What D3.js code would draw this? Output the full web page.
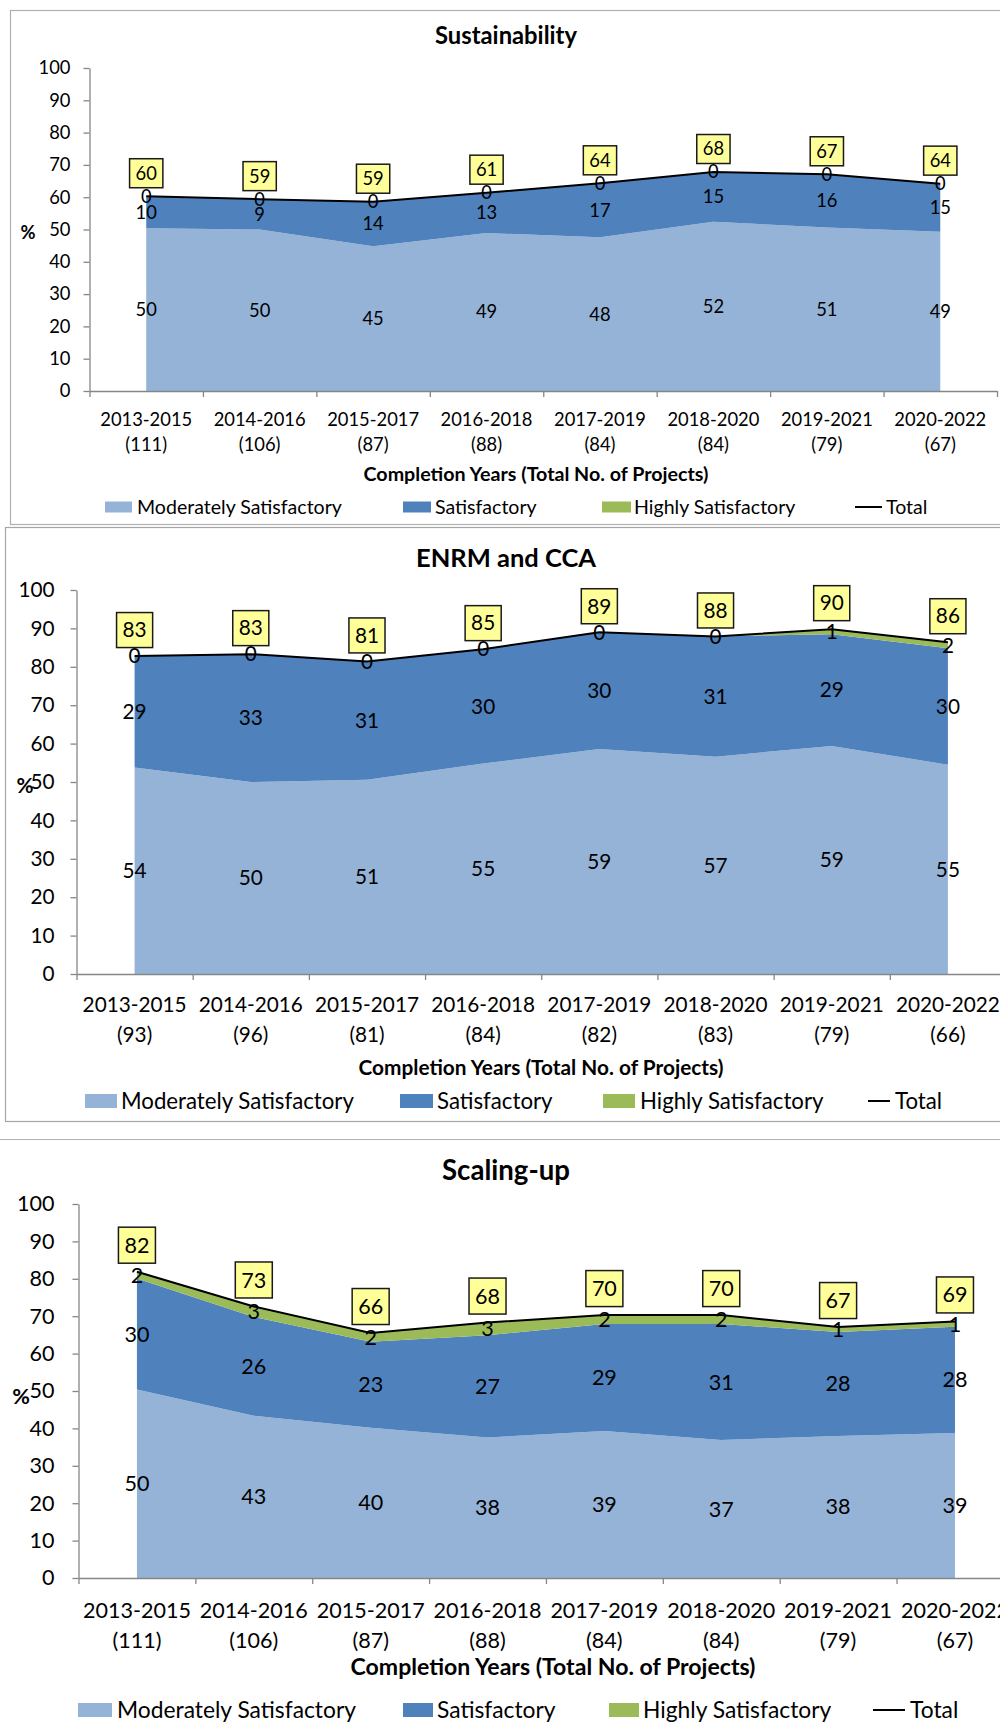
<!DOCTYPE html>
<html><head><meta charset="utf-8">
<script src="https://cdn.jsdelivr.net/npm/d3@7"></script>
<style>
body{margin:0;background:#fff;}
svg{display:block;}
text{font-family:Lato,"Open Sans",sans-serif;}
</style>
</head><body>
<svg id="c" width="1000" height="1727"></svg>
<script>
// ---------- DATA ----------
const categories = ["2013-2015","2014-2016","2015-2017","2016-2018","2017-2019","2018-2020","2019-2021","2020-2022"];
const yTicks = [0,10,20,30,40,50,60,70,80,90,100];
const seriesNames = ["Moderately Satisfactory","Satisfactory","Highly Satisfactory","Total"];
const xAxisTitle = "Completion Years (Total No. of Projects)";

// Sustainability
const sustProjects = [111,106,87,88,84,84,79,67];
const sustMS    = [50.4,50.0,44.8,48.9,47.6,52.4,50.6,49.3];
const sustS     = [9.9,9.4,13.8,12.5,16.7,15.4,16.5,14.9];
const sustHS    = [0,0,0,0,0,0,0,0];
const sustTotal = [60.3,59.4,58.6,61.4,64.3,67.8,67.1,64.2];

// ENRM and CCA
const enrmProjects = [93,96,81,84,82,83,79,66];
const enrmMS    = [53.8,50.0,50.6,54.8,58.6,56.6,59.4,54.5];
const enrmS     = [29.0,33.3,30.8,29.8,30.4,31.3,29.1,30.3];
const enrmHS    = [0,0,0,0,0,0,1.3,1.6];
const enrmTotal = [82.8,83.3,81.4,84.6,89.0,87.9,89.8,86.4];

// Scaling-up
const scalProjects = [111,106,87,88,84,84,79,67];
const scalMS    = [50.4,43.4,40.2,37.6,39.3,36.9,38.0,38.8];
const scalS     = [29.7,26.4,23.0,27.3,28.6,31.0,27.8,28.4];
const scalHS    = [1.8,2.8,2.3,3.4,2.4,2.4,1.3,1.4];
const scalTotal = [81.9,72.6,65.5,68.3,70.3,70.3,67.1,68.6];

// ---------- STYLE ----------
const colors = ["#95B3D7","#4F81BD","#9BBB59"];
const axisColor = "#868686";
const FONT = "Lato";

const svg = d3.select("#c");

function measure(str, weight, size){
  const t = svg.append("text").attr("font-family",FONT).attr("font-weight",weight)
    .attr("font-size",size).text(str);
  const w = t.node().getComputedTextLength(); t.remove(); return w;
}
function fit(str, weight, w){ return 100*w/measure(str, weight, 100); }

// panel borders
svg.append("rect").attr("x",10.5).attr("y",10.5).attr("width",1100).attr("height",514)
  .attr("fill","none").attr("stroke","#B0B0B0").attr("stroke-width",1.2);
svg.append("rect").attr("x",5.5).attr("y",527.5).attr("width",1100).attr("height",594)
  .attr("fill","none").attr("stroke","#A6A6A6").attr("stroke-width",1.2);
svg.append("line").attr("x1",0).attr("x2",1000).attr("y1",1139.5).attr("y2",1139.5)
  .attr("stroke","#B0B0B0").attr("stroke-width",1.2);

const panels = [
  {title:"Sustainability", projects:sustProjects, ms:sustMS, s:sustS, hs:sustHS, total:sustTotal,
   left:89.5, right:997, y0:391, y100:68, titleY:36, titleW:142, catW:92, cat1:420, cat2:445,
   axTitleY:474, axTitleX:536, axTitleW:345, legY:507, legW:205, legSwH:11,
   leg:[[105,132,137],[403,431,435],[602,631,634],[855,882,886]],
   pct:[28,233], tickGap:19, boxH:29},
  {title:"ENRM and CCA", projects:enrmProjects, ms:enrmMS, s:enrmS, hs:enrmHS, total:enrmTotal,
   left:76.5, right:1006, y0:974, y100:590, titleY:558, titleW:180, catW:104, cat1:1005, cat2:1035,
   axTitleY:1068, axTitleX:541, axTitleW:365, legY:1101, legW:233, legSwH:14,
   leg:[[85,117,121],[400,433,437],[603,635,640],[868,890,895]],
   pct:[25,786], tickGap:22, boxH:35},
  {title:"Scaling-up", projects:scalProjects, ms:scalMS, s:scalS, hs:scalHS, total:scalTotal,
   left:78.5, right:1013.4, y0:1578, y100:1204, titleY:1170, titleW:128, catW:108, cat1:1610, cat2:1640,
   axTitleY:1667, axTitleX:553, axTitleW:405, legY:1710, legW:239, legSwH:14,
   leg:[[78,112,117],[403,433,437],[609,639,643],[873,905,910]],
   pct:[21,1396], tickGap:24, boxH:36}
];

panels.forEach(p=>{
  const g = svg.append("g");
  const x = d3.scaleBand().domain(categories).range([p.left,p.right]);
  const cx = c => x(c) + x.bandwidth()/2;
  const xe = d3.scaleLinear().domain([0,categories.length]).range([p.left,p.right]);
  const y = d3.scaleLinear().domain([0,100]).range([p.y0,p.y100]);
  const fs = fit("2013-2015", 400, p.catW);

  // stacked areas
  const rows = categories.map((c,i)=>({cat:c, ms:p.ms[i], s:p.s[i], hs:p.hs[i]}));
  const stacked = d3.stack().keys(["ms","s","hs"])(rows);
  const area = d3.area().x(d=>cx(d.data.cat)).y0(d=>y(d[0])).y1(d=>y(d[1]));
  g.selectAll("path.area").data(stacked).join("path").attr("class","area")
    .attr("d",area).attr("fill",(d,i)=>colors[i]);

  // total line
  const line = d3.line().x((d,i)=>cx(categories[i])).y(d=>y(d));
  g.append("path").attr("d",line(p.total)).attr("fill","none")
    .attr("stroke","#000").attr("stroke-width",2);

  // y axis
  const ya = g.append("g").attr("transform",`translate(${p.left},0)`)
    .call(d3.axisLeft(y).tickValues(yTicks).tickSize(6).tickSizeOuter(0)
      .tickPadding(p.tickGap-6).tickFormat(d3.format("d")));
  ya.select(".domain").attr("stroke",axisColor).attr("stroke-width",1.3);
  ya.selectAll(".tick line").attr("stroke",axisColor).attr("stroke-width",1.3);
  ya.selectAll(".tick text").attr("font-size",fs).attr("font-family",FONT).attr("fill","#000");

  // x axis (ticks at category boundaries)
  const xa = g.append("g").attr("transform",`translate(0,${p.y0})`)
    .call(d3.axisBottom(xe).tickValues(d3.range(categories.length+1)).tickSize(6)
      .tickSizeOuter(0).tickFormat(""));
  xa.select(".domain").attr("stroke",axisColor).attr("stroke-width",1.3);
  xa.selectAll(".tick line").attr("stroke",axisColor).attr("stroke-width",1.3);

  // category labels
  const cl = g.append("g").attr("font-size",fs).attr("font-family",FONT).attr("text-anchor","middle");
  cl.selectAll("text.c1").data(categories).join("text").attr("class","c1")
    .attr("x",d=>cx(d)).attr("y",p.cat1).attr("dy","0.35em").text(d=>d);
  cl.selectAll("text.c2").data(categories).join("text").attr("class","c2")
    .attr("x",d=>cx(d)).attr("y",p.cat2).attr("dy","0.35em").text((d,i)=>`(${p.projects[i]})`);

  // data labels for stacked series
  const dl = g.append("g").attr("font-size",fs).attr("font-family",FONT).attr("text-anchor","middle");
  stacked.forEach((ser,si)=>{
    dl.selectAll(`text.s${si}`).data(ser).join("text").attr("class",`s${si}`)
      .attr("x",d=>cx(d.data.cat)).attr("y",d=>y((d[0]+d[1])/2)).attr("dy","0.35em")
      .text(d=>Math.round(d[1]-d[0]));
  });

  // total labels in yellow boxes
  const tb = g.append("g").attr("font-size",fs).attr("font-family",FONT);
  p.total.forEach((v,i)=>{
    const lbl = String(Math.round(v));
    const w = measure(lbl,400,fs) + 12;
    const bottom = y(v) - 8.5;
    const cy = bottom - p.boxH/2;
    tb.append("rect").attr("x",cx(categories[i])-w/2).attr("y",bottom-p.boxH)
      .attr("width",w).attr("height",p.boxH).attr("fill","#FFFF99")
      .attr("stroke","#1a1a1a").attr("stroke-width",1.5);
    tb.append("text").attr("x",cx(categories[i])).attr("y",cy).attr("dy","0.35em")
      .attr("text-anchor","middle").text(lbl);
  });

  // title
  g.append("text").attr("x",506).attr("y",p.titleY).attr("dy","0.35em").attr("text-anchor","middle")
    .attr("font-weight",700).attr("font-size",fit(p.title,700,p.titleW)).text(p.title);

  // axis title
  g.append("text").attr("x",p.axTitleX).attr("y",p.axTitleY).attr("dy","0.35em").attr("text-anchor","middle")
    .attr("font-weight",700).attr("font-size",fit(xAxisTitle,700,p.axTitleW)).text(xAxisTitle);

  // % label
  g.append("text").attr("x",p.pct[0]).attr("y",p.pct[1]).attr("dy","0.35em").attr("text-anchor","middle")
    .attr("font-weight",700).attr("font-size",fs).text("%");

  // legend
  const lfs = fit(seriesNames[0],400,p.legW);
  const lg = g.append("g").attr("font-size",lfs).attr("font-family",FONT);
  seriesNames.forEach((nm,i)=>{
    const [a,b,t] = p.leg[i];
    if(i<3){
      lg.append("rect").attr("x",a).attr("y",p.legY-p.legSwH/2).attr("width",b-a)
        .attr("height",p.legSwH).attr("fill",colors[i]);
    } else {
      lg.append("line").attr("x1",a).attr("x2",b).attr("y1",p.legY).attr("y2",p.legY)
        .attr("stroke","#000").attr("stroke-width",2);
    }
    lg.append("text").attr("x",t).attr("y",p.legY).attr("dy","0.35em").text(nm);
  });
});
</script>
</body></html>
